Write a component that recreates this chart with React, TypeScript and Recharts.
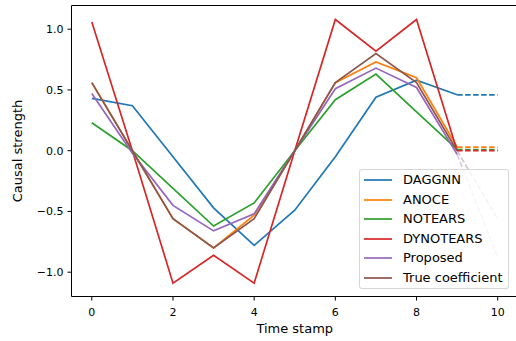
import React from 'react';
import { LineChart, Line, XAxis, YAxis, Legend, ReferenceArea } from 'recharts';

// time stamps 0..9 carry the solid lines, 9..10 the dashed continuation
const timeStamps = [0, 1, 2, 3, 4, 5, 6, 7, 8, 9, 10];
const tailStamps = [9, 10];

const daggnn = [0.43, 0.37, -0.05, -0.47, -0.78, -0.49, -0.05, 0.44, 0.58, 0.46];
const anoce = [0.56, 0.0, -0.56, -0.8, -0.53, 0.0, 0.56, 0.73, 0.6, 0.03];
const notears = [0.23, 0.0, -0.31, -0.62, -0.43, 0.0, 0.42, 0.63, 0.32, 0.01];
const dynotears = [1.06, 0.0, -1.09, -0.86, -1.09, 0.0, 1.08, 0.82, 1.08, 0.0];
const proposed = [0.47, -0.02, -0.45, -0.66, -0.52, 0.0, 0.51, 0.68, 0.52, -0.03];
const trueCoef = [0.56, 0.0, -0.56, -0.8, -0.56, 0.0, 0.56, 0.8, 0.56, 0.0];

const daggnnTail = [0.46, 0.46];
const anoceTail = [0.03, 0.03];
const notearsTail = [0.01, 0.01];
const dynotearsTail = [0.0, 0.0];
const proposedTail = [-0.03, -0.88];
const trueCoefTail = [0.0, -0.56];

const xTicks = [0, 2, 4, 6, 8, 10];
const yTicks = [-1, -0.5, 0, 0.5, 1];

const series = [
  { key: 'daggnn', name: 'DAGGNN', color: '#1f77b4', values: daggnn, tail: daggnnTail, tailOpacity: 1 },
  { key: 'anoce', name: 'ANOCE', color: '#ff7f0e', values: anoce, tail: anoceTail, tailOpacity: 1 },
  { key: 'notears', name: 'NOTEARS', color: '#2ca02c', values: notears, tail: notearsTail, tailOpacity: 1 },
  { key: 'dynotears', name: 'DYNOTEARS', color: '#d62728', values: dynotears, tail: dynotearsTail, tailOpacity: 1 },
  { key: 'proposed', name: 'Proposed', color: '#9467bd', values: proposed, tail: proposedTail, tailOpacity: 0.35 },
  { key: 'trueCoef', name: 'True coefficient', color: '#8c564b', values: trueCoef, tail: trueCoefTail, tailOpacity: 0.35 },
];

const data = timeStamps.map((t, i) => {
  const row: Record<string, number | null> = { t };
  const ti = tailStamps.indexOf(t);
  series.forEach((s) => {
    row[s.key] = i < s.values.length ? s.values[i] : null;
    row[s.key + 'Tail'] = ti >= 0 ? s.tail[ti] : null;
  });
  return row;
});

const fmtY = (v: number) => (v < 0 ? '\u2212' + Math.abs(v).toFixed(1) : v.toFixed(1));

const renderLegend = () => (
  <div
    style={{
      position: 'relative',
      boxSizing: 'border-box',
      width: 150,
      height: 120,
      border: '1px solid rgba(204,204,204,0.8)',
      borderRadius: 3,
      background: 'rgba(255,255,255,0.8)',
      fontSize: 13,
      color: '#000',
    }}
  >
    {series.map((s, i) => (
      <div key={s.key} style={{ position: 'absolute', left: 0, top: 10 + i * 19.5 - 9, height: 18, width: 150 }}>
        <svg width={40} height={18} style={{ position: 'absolute', left: 0, top: 0 }}>
          <line x1={4} x2={32} y1={9} y2={9} stroke={s.color} strokeWidth={1.7} />
        </svg>
        <span style={{ position: 'absolute', left: 43, top: 0, lineHeight: '18px', whiteSpace: 'nowrap' }}>{s.name}</span>
      </div>
    ))}
  </div>
);

const renderYLabel = () => (
  <text
    x={17.5}
    y={151}
    transform="rotate(-90 17.5 151)"
    textAnchor="middle"
    dominantBaseline="central"
    fontSize={13}
    fill="#000"
  >
    Causal strength
  </text>
);

export default function App() {
  return (
    <div
      style={{
        position: 'absolute',
        left: 0,
        top: 0,
        width: 516,
        height: 341,
        overflow: 'hidden',
        background: '#fff',
        fontFamily: '"DejaVu Sans", sans-serif',
      }}
    >
      <LineChart width={520} height={341} data={data} margin={{ top: 5.5, right: 2, bottom: 0, left: 0 }}>
        <XAxis
          dataKey="t"
          type="number"
          domain={[-0.5, 10.5]}
          ticks={xTicks}
          allowDataOverflow
          height={44.5}
          axisLine={false}
          tickSize={4}
          tickMargin={8}
          tickLine={{ stroke: '#000' }}
          tick={{ fontSize: 11, fill: '#000' }}
          label={{ value: 'Time stamp', position: 'insideBottom', offset: 8, fontSize: 13, fill: '#000' }}
        />
        <YAxis
          type="number"
          domain={[-1.2, 1.195]}
          ticks={yTicks}
          allowDataOverflow
          width={71.5}
          axisLine={false}
          tickSize={4}
          tickMargin={4}
          tickFormatter={fmtY}
          tickLine={{ stroke: '#000' }}
          tick={{ fontSize: 11, fill: '#000' }}
          label={renderYLabel}
        />
        <ReferenceArea x1={-0.5} x2={10.5} y1={-1.2} y2={1.195} fill="none" stroke="#000" strokeWidth={1} />
        {series.map((s) => (
          <Line
            key={s.key}
            dataKey={s.key}
            name={s.name}
            stroke={s.color}
            strokeWidth={1.7}
            dot={false}
            activeDot={false}
            isAnimationActive={false}
          />
        ))}
        {series.map((s) => (
          <Line
            key={s.key + 'Tail'}
            dataKey={s.key + 'Tail'}
            stroke={s.color}
            strokeOpacity={s.tailOpacity}
            strokeWidth={1.7}
            strokeDasharray="5.5 2.5"
            dot={false}
            activeDot={false}
            legendType="none"
            isAnimationActive={false}
          />
        ))}
        <Legend
          layout="vertical"
          align="center"
          verticalAlign="middle"
          wrapperStyle={{ left: 359, top: 169, width: 150, height: 120 }}
          content={renderLegend}
        />
      </LineChart>
    </div>
  );
}
